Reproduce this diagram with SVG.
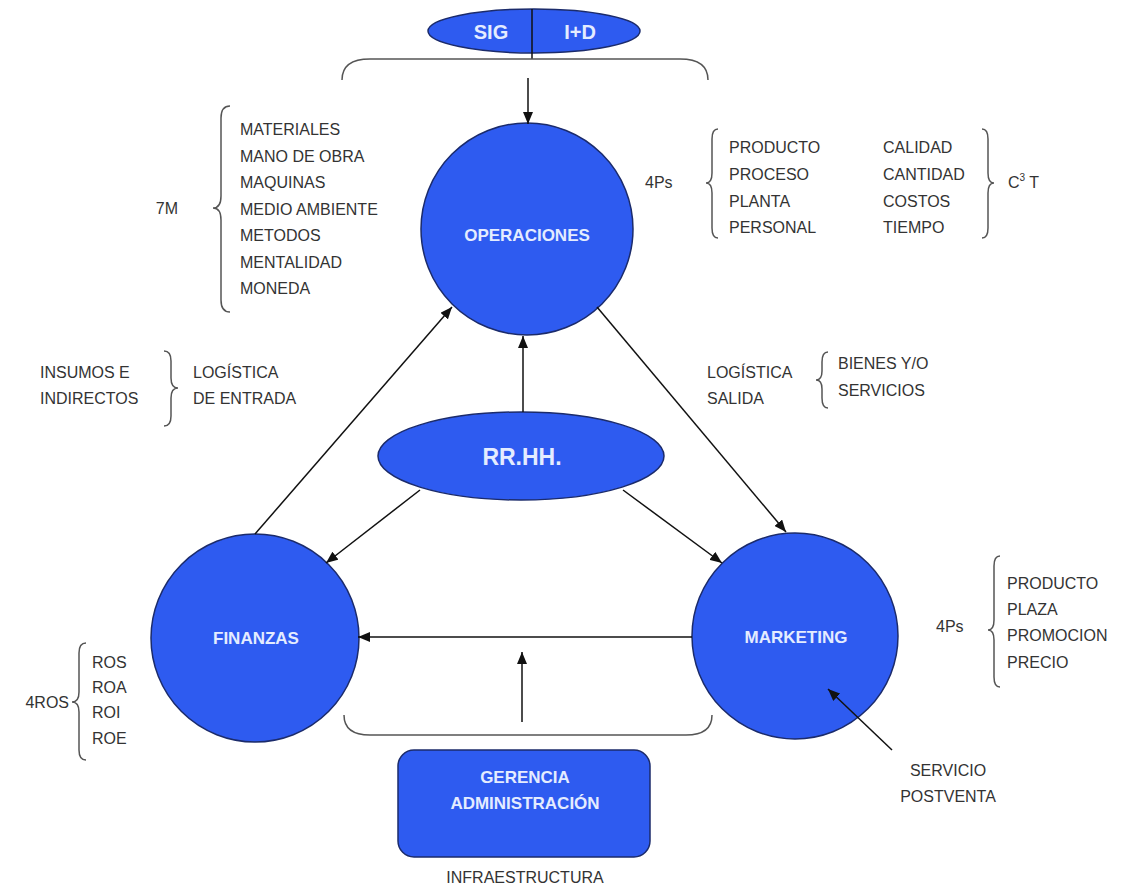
<svg xmlns="http://www.w3.org/2000/svg" width="1121" height="887" viewBox="0 0 1121 887">
<style>
.node{fill:#2E5BF0;stroke:#1b2b6b;stroke-width:1.5}
.nt{font-family:"Liberation Sans",Arial,sans-serif;font-weight:bold;fill:#e4ecff;text-anchor:middle}
.t{font-family:"Liberation Sans",Arial,sans-serif;font-size:16px;fill:#333}
.brace{fill:none;stroke:#555;stroke-width:1.5}
.arr{stroke:#111;stroke-width:1.5;fill:none;marker-end:url(#ah)}
</style>
<defs>
<marker id="ah" markerUnits="userSpaceOnUse" markerWidth="12" markerHeight="10" refX="12" refY="5" orient="auto">
<path d="M0,0 L12,5 L0,10 z" fill="#111"/>
</marker>
</defs>
<rect width="1121" height="887" fill="#fff"/>

<g id="sig-id">
<ellipse class="node" cx="534" cy="31" rx="106" ry="22"/>
<line x1="532" y1="9" x2="532" y2="59" stroke="#111" stroke-width="1.5"/>
<text class="nt" x="491" y="39" font-size="20">SIG</text>
<text class="nt" x="580" y="39" font-size="20">I+D</text>
</g>
<path id="top-brace" class="brace" d="M342,80 Q342,59 370,59 L680,59 Q708,59 708,80"/>

<g id="operaciones">
<circle class="node" cx="527" cy="229" r="106"/>
<text class="nt" x="527" y="241" font-size="17">OPERACIONES</text>
</g>

<g id="rrhh">
<ellipse class="node" cx="521" cy="456" rx="143" ry="44"/>
<text class="nt" x="522" y="465" font-size="23">RR.HH.</text>
</g>

<g id="finanzas">
<circle class="node" cx="255" cy="638" r="104"/>
<text class="nt" x="256" y="644" font-size="17">FINANZAS</text>
</g>

<g id="marketing">
<circle class="node" cx="795" cy="636" r="103"/>
<text class="nt" x="796" y="643" font-size="17">MARKETING</text>
</g>

<path id="bottom-brace" class="brace" d="M344,715 Q344,735 370,735 L686,735 Q712,735 712,715"/>

<g id="gerencia">
<rect class="node" x="398" y="750" width="252" height="107" rx="16"/>
<text class="nt" x="525" y="783" font-size="17">GERENCIA</text>
<text class="nt" x="525" y="809" font-size="17">ADMINISTRACIÓN</text>
</g>
<text class="t" x="525" y="883" text-anchor="middle" font-size="17">INFRAESTRUCTURA</text>

<g id="siete-m">
<text class="t" x="178" y="214" text-anchor="end">7M</text>
<path class="brace" d="M230,106 Q221,106 221,118 L221,196 Q221,208 213,208 Q221,208 221,220 L221,300 Q221,312 230,312"/>
<text class="t" x="240" y="135">MATERIALES</text>
<text class="t" x="240" y="161.5">MANO DE OBRA</text>
<text class="t" x="240" y="188">MAQUINAS</text>
<text class="t" x="240" y="214.5">MEDIO AMBIENTE</text>
<text class="t" x="240" y="241">METODOS</text>
<text class="t" x="240" y="267.5">MENTALIDAD</text>
<text class="t" x="240" y="294">MONEDA</text>
</g>

<g id="cuatro-ps-op">
<text class="t" x="645" y="188">4Ps</text>
<path class="brace" d="M718,129 Q712,129 712,139 L712,173 Q712,183 706,183 Q712,183 712,193 L712,228 Q712,238 718,238"/>
<text class="t" x="729" y="153">PRODUCTO</text>
<text class="t" x="729" y="180">PROCESO</text>
<text class="t" x="729" y="207">PLANTA</text>
<text class="t" x="729" y="233">PERSONAL</text>
<text class="t" x="883" y="153">CALIDAD</text>
<text class="t" x="883" y="180">CANTIDAD</text>
<text class="t" x="883" y="207">COSTOS</text>
<text class="t" x="883" y="233">TIEMPO</text>
<path class="brace" d="M982,129 Q988,129 988,139 L988,173 Q988,183 994,183 Q988,183 988,193 L988,228 Q988,238 982,238"/>
<text class="t" x="1008" y="188">C<tspan font-size="10" dy="-7">3</tspan><tspan dy="7"> T</tspan></text>
</g>

<g id="logistica-entrada">
<text class="t" x="40" y="378">INSUMOS E</text>
<text class="t" x="40" y="404">INDIRECTOS</text>
<path class="brace" d="M164,351 Q171,351 171,361 L171,378 Q171,388 178,388 Q171,388 171,398 L171,416 Q171,426 164,426"/>
<text class="t" x="193" y="378">LOGÍSTICA</text>
<text class="t" x="193" y="404">DE ENTRADA</text>
</g>

<g id="logistica-salida">
<text class="t" x="707" y="378">LOGÍSTICA</text>
<text class="t" x="707" y="404">SALIDA</text>
<path class="brace" d="M828,352 Q822,352 822,362 L822,371 Q822,380 816,380 Q822,380 822,389 L822,398 Q822,408 828,408"/>
<text class="t" x="838" y="369">BIENES Y/O</text>
<text class="t" x="838" y="396">SERVICIOS</text>
</g>

<g id="cuatro-ps-mk">
<text class="t" x="936" y="632">4Ps</text>
<path class="brace" d="M1000,556 Q994,556 994,566 L994,620 Q994,630 988,630 Q994,630 994,640 L994,677 Q994,687 1000,687"/>
<text class="t" x="1007" y="589">PRODUCTO</text>
<text class="t" x="1007" y="615">PLAZA</text>
<text class="t" x="1007" y="641">PROMOCION</text>
<text class="t" x="1007" y="668">PRECIO</text>
</g>

<g id="cuatro-ros">
<text class="t" x="69" y="708" text-anchor="end">4ROS</text>
<path class="brace" d="M86,643 Q79,643 79,653 L79,692 Q79,702 72,702 Q79,702 79,712 L79,750 Q79,760 86,760"/>
<text class="t" x="92" y="668">ROS</text>
<text class="t" x="92" y="693">ROA</text>
<text class="t" x="92" y="718">ROI</text>
<text class="t" x="92" y="744">ROE</text>
</g>

<g id="servicio">
<text class="t" x="948" y="776" text-anchor="middle">SERVICIO</text>
<text class="t" x="948" y="802" text-anchor="middle">POSTVENTA</text>
</g>

<g id="connectors">
<line class="arr" x1="528" y1="78" x2="528" y2="124"/>
<line class="arr" x1="523" y1="412" x2="523" y2="336"/>
<line class="arr" x1="255" y1="534" x2="452" y2="307"/>
<line class="arr" x1="597" y1="307" x2="786" y2="532"/>
<line class="arr" x1="420" y1="490" x2="326" y2="563"/>
<line class="arr" x1="623" y1="490" x2="722" y2="563"/>
<line class="arr" x1="692" y1="637" x2="358" y2="637"/>
<line class="arr" x1="522" y1="722" x2="522" y2="652"/>
<line class="arr" x1="892" y1="750" x2="828" y2="689"/>
</g>
</svg>
